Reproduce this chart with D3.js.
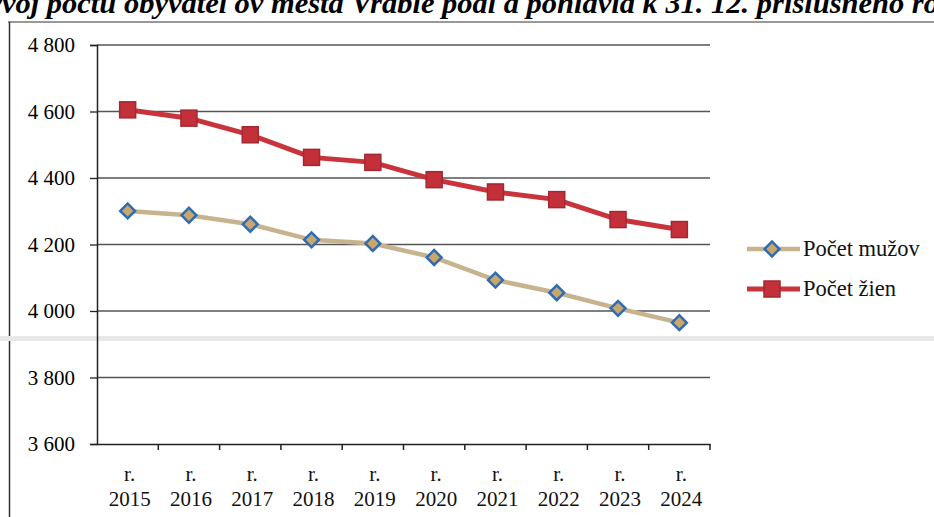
<!DOCTYPE html>
<html>
<head>
<meta charset="utf-8">
<script src="https://cdn.jsdelivr.net/npm/d3@7"></script>
<style>
  body { margin: 0; background: #fff; }
  svg { display: block; font-family: "Liberation Serif", "Times New Roman", serif; }
</style>
</head>
<body>
<svg id="chart" width="934" height="517"></svg>
<script>
// chart data
const years = ['2015', '2016', '2017', '2018', '2019', '2020', '2021', '2022', '2023', '2024'];
const muzi = [4301, 4288, 4261, 4214, 4203, 4161, 4093, 4055, 4008, 3965];
const zeny = [4605, 4580, 4530, 4462, 4447, 4395, 4358, 4335, 4275, 4245];
const yTicks = [3600, 3800, 4000, 4200, 4400, 4600, 4800];
const seriesNames = ['Počet mužov', 'Počet žien'];
const titleText = 'Vývoj počtu obyvateľov mesta Vráble podľa pohlavia k 31. 12. príslušného roka';

const svg = d3.select('#chart');

// plot bounds
const plotLeft = 97, plotRight = 710, plotTop = 45, plotBottom = 444;

const x = d3.scaleBand().domain(years).range([plotLeft, plotRight]);
const y = d3.scaleLinear().domain([3600, 4800]).range([plotBottom, plotTop]);

// title, cut off at the top edge like the scan
const title = svg.append('text')
    .attr('y', 13)
    .style('font-weight', 'bold')
    .style('font-style', 'italic')
    .style('font-size', '100px')
    .text(titleText);
const visible = titleText.slice(2, titleText.length - 3);   // "voj ... r"
const tmp = svg.append('text').style('font-weight', 'bold').style('font-style', 'italic').style('font-size', '100px');
tmp.text(visible);
const wVis = tmp.node().getComputedTextLength();
tmp.text(titleText.slice(0, 2));
const wPre = tmp.node().getComputedTextLength();
tmp.remove();
const fs = 100 * 922 / wVis;
title.style('font-size', fs + 'px').attr('x', 2 - wPre * fs / 100);

// frame
svg.append('line').attr('x1', 8).attr('x2', 934).attr('y1', 22).attr('y2', 22)
    .attr('stroke', '#777').attr('stroke-width', 1.5);
svg.append('line').attr('x1', 9.5).attr('x2', 9.5).attr('y1', 22).attr('y2', 517)
    .attr('stroke', '#333').attr('stroke-width', 1.5);

// scan band
svg.append('rect').attr('x', 0).attr('y', 336).attr('width', 934).attr('height', 5).attr('fill', '#e8e8e8');

// gridlines
svg.append('g')
    .selectAll('line')
    .data(yTicks.slice(1))
    .join('line')
    .attr('x1', plotLeft).attr('x2', plotRight)
    .attr('y1', d => y(d)).attr('y2', d => y(d))
    .attr('stroke', '#555').attr('stroke-width', 1.3);

// y axis (line + ticks), labels drawn separately
const yAxis = d3.axisLeft(y).tickValues(yTicks).tickSize(7).tickFormat(() => '');
const gy = svg.append('g').attr('transform', `translate(${plotLeft},0)`).call(yAxis);
gy.select('.domain').attr('stroke', '#222').attr('stroke-width', 1.5);
gy.selectAll('.tick line').attr('stroke', '#222').attr('stroke-width', 1.3);

const fmt = d => d3.format(',')(d).replace(',', ' ');
const yl = svg.append('g')
    .selectAll('text')
    .data(yTicks)
    .join('text')
    .attr('x', 75)
    .attr('y', d => y(d) + 7)
    .attr('text-anchor', 'end')
    .attr('fill', '#000')
    .style('font-size', '21px')
    .text(fmt);

// x axis: ticks between categories
const xAxis = d3.axisBottom(x).tickSize(0).tickFormat(() => '');
const gx = svg.append('g').attr('transform', `translate(0,${plotBottom})`).call(xAxis);
gx.select('.domain').attr('stroke', '#222').attr('stroke-width', 1.5);
gx.selectAll('.sep')
    .data(years.map((d, i) => i + 1))
    .join('line')
    .attr('x1', i => plotLeft + i * x.step()).attr('x2', i => plotLeft + i * x.step())
    .attr('y1', 0).attr('y2', 6)
    .attr('stroke', '#222').attr('stroke-width', 1.5);

const xl = svg.append('g')
    .selectAll('text')
    .data(years)
    .join('text')
    .attr('text-anchor', 'middle')
    .attr('fill', '#111')
    .style('font-size', '21px');
xl.append('tspan').attr('x', d => x(d) + x.bandwidth() / 2 + 2).attr('y', 481).text('r.');
xl.append('tspan').attr('x', d => x(d) + x.bandwidth() / 2 + 2).attr('y', 506).text(d => d);

const cx = d => x(d) + x.bandwidth() / 2;

// lines
const line = d3.line().x((v, i) => cx(years[i])).y(v => y(v));
svg.append('path').datum(muzi).attr('d', line)
    .attr('fill', 'none').attr('stroke', '#c8b38f').attr('stroke-width', 4.5);
svg.append('path').datum(zeny).attr('d', line)
    .attr('fill', 'none').attr('stroke', '#c9343c').attr('stroke-width', 5);

// markers
const diamond = d3.symbol().type(d3.symbolSquare).size(110);
svg.append('g').selectAll('path')
    .data(muzi)
    .join('path')
    .attr('d', diamond)
    .attr('transform', (v, i) => `translate(${cx(years[i])},${y(v)}) rotate(45)`)
    .attr('fill', '#c9a76c').attr('stroke', '#2f6cb3').attr('stroke-width', 2.5);

svg.append('g').selectAll('rect')
    .data(zeny)
    .join('rect')
    .attr('x', (v, i) => cx(years[i]) - 8).attr('y', v => y(v) - 8)
    .attr('width', 16).attr('height', 16)
    .attr('fill', '#c3303a').attr('stroke', '#a32830').attr('stroke-width', 1.5);

// legend
const legend = svg.append('g');
const ly = [249, 289];
legend.append('line').attr('x1', 747).attr('x2', 800).attr('y1', ly[0]).attr('y2', ly[0])
    .attr('stroke', '#c8b38f').attr('stroke-width', 4.5);
legend.append('path').attr('d', diamond).attr('transform', `translate(772,${ly[0]}) rotate(45)`)
    .attr('fill', '#c9a76c').attr('stroke', '#2f6cb3').attr('stroke-width', 2.5);
legend.append('line').attr('x1', 747).attr('x2', 800).attr('y1', ly[1]).attr('y2', ly[1])
    .attr('stroke', '#c9343c').attr('stroke-width', 5);
legend.append('rect').attr('x', 764).attr('y', ly[1] - 8).attr('width', 16).attr('height', 16)
    .attr('fill', '#c3303a').attr('stroke', '#a32830').attr('stroke-width', 1.5);
legend.selectAll('text')
    .data(seriesNames)
    .join('text')
    .attr('x', 803).attr('y', (d, i) => ly[i] + 7)
    .attr('fill', '#111')
    .style('font-size', '22.5px')
    .text(d => d);
</script>
</body>
</html>
